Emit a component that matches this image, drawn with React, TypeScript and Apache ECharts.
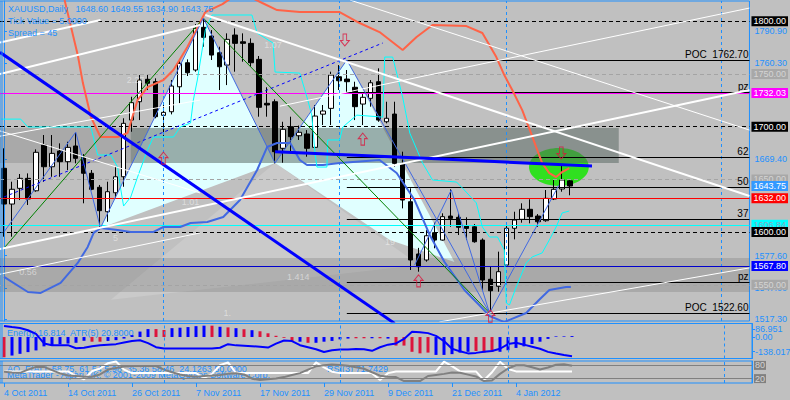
import React, { useEffect, useRef } from "react";
import * as echarts from "echarts";

const FONT = "Liberation Sans";
const TXT = "#1e90ff";

// ---------- price bars ----------
const dates = [
  "4 Oct 2011","5 Oct 2011","6 Oct 2011","7 Oct 2011","10 Oct 2011","11 Oct 2011","12 Oct 2011","13 Oct 2011","14 Oct 2011","17 Oct 2011",
  "18 Oct 2011","19 Oct 2011","20 Oct 2011","21 Oct 2011","24 Oct 2011","25 Oct 2011","26 Oct 2011","27 Oct 2011","28 Oct 2011","31 Oct 2011",
  "1 Nov 2011","2 Nov 2011","3 Nov 2011","4 Nov 2011","7 Nov 2011","8 Nov 2011","9 Nov 2011","10 Nov 2011","11 Nov 2011","14 Nov 2011",
  "15 Nov 2011","16 Nov 2011","17 Nov 2011","18 Nov 2011","21 Nov 2011","22 Nov 2011","23 Nov 2011","24 Nov 2011","25 Nov 2011","28 Nov 2011",
  "29 Nov 2011","30 Nov 2011","1 Dec 2011","2 Dec 2011","5 Dec 2011","6 Dec 2011","7 Dec 2011","8 Dec 2011","9 Dec 2011","12 Dec 2011",
  "13 Dec 2011","14 Dec 2011","15 Dec 2011","16 Dec 2011","19 Dec 2011","20 Dec 2011","21 Dec 2011","22 Dec 2011","23 Dec 2011","27 Dec 2011",
  "28 Dec 2011","29 Dec 2011","30 Dec 2011","3 Jan 2012","4 Jan 2012","5 Jan 2012","6 Jan 2012","9 Jan 2012","10 Jan 2012","11 Jan 2012",
  "12 Jan 2012","13 Jan 2012"
];
const FUTURE_BARS = 22;

const opens = [
  1660.5,1626.6,1641.5,1651.0,1639.2,1682.6,1662.0,1676.9,1666.8,1681.7,
  1670.9,1655.8,1642.5,1619.3,1637.3,1652.5,1706.3,1723.7,1745.0,1742.7,
  1710.8,1714.2,1737.9,1760.7,1753.8,1794.3,1786.0,1770.2,1758.5,1787.0,
  1780.6,1779.1,1763.9,1722.2,1723.7,1679.5,1700.0,1691.4,1693.1,1680.4,
  1711.9,1717.4,1747.4,1745.2,1737.4,1721.5,1726.9,1742.7,1704.7,1712.0,
  1665.2,1628.8,1579.2,1573.5,1599.4,1592.4,1615.2,1614.0,1605.7,1605.0,
  1592.4,1555.2,1548.5,1568.7,1603.6,1612.1,1621.6,1615.2,1610.8,1631.4,
  1640.9,1648.6
];
const highs = [
  1679.5,1647.8,1655.1,1655.7,1678.5,1692.1,1692.1,1684.2,1685.7,1694.3,
  1674.0,1658.9,1644.7,1647.8,1662.0,1708.0,1728.4,1749.0,1750.0,1745.9,
  1722.2,1744.3,1763.3,1763.9,1797.4,1802.8,1791.7,1775.9,1788.6,1793.4,
  1788.6,1783.8,1767.1,1737.4,1726.0,1704.7,1709.5,1701.1,1696.8,1720.6,
  1720.6,1752.2,1758.5,1753.8,1742.7,1731.0,1744.3,1755.4,1723.7,1723.7,
  1676.3,1641.5,1585.0,1601.9,1608.9,1617.8,1640.6,1617.8,1614.0,1607.6,
  1594.0,1567.1,1581.4,1606.7,1619.3,1627.3,1631.1,1617.1,1639.9,1649.4,
  1663.6,1649.55
];
const lows = [
  1595.6,1595.6,1630.4,1625.7,1638.3,1647.8,1652.5,1652.5,1658.9,1665.2,
  1627.3,1639.7,1605.0,1609.8,1632.0,1643.0,1695.2,1706.3,1734.8,1708.0,
  1691.2,1711.7,1722.2,1748.1,1752.2,1775.9,1763.3,1734.8,1739.5,1752.2,
  1761.7,1756.9,1709.5,1709.5,1665.2,1665.8,1676.3,1687.4,1671.5,1679.5,
  1701.6,1701.6,1734.8,1731.7,1706.3,1701.6,1719.0,1704.7,1703.2,1662.0,
  1622.5,1564.0,1562.4,1571.9,1584.6,1591.8,1605.0,1597.2,1592.4,1589.9,
  1545.0,1524.4,1543.4,1567.1,1593.1,1608.9,1608.3,1605.0,1609.8,1630.4,
  1638.3,1634.9
];
const closes = [
  1626.6,1640.6,1651.0,1631.4,1675.7,1662.0,1674.7,1666.8,1680.4,1670.0,
  1655.8,1640.6,1620.3,1638.3,1652.5,1703.2,1722.8,1744.3,1741.2,1709.5,
  1713.6,1738.6,1760.1,1751.2,1793.4,1784.8,1768.0,1756.9,1782.9,1779.1,
  1779.1,1760.7,1718.4,1720.6,1676.3,1697.5,1690.5,1694.7,1679.5,1710.1,
  1714.9,1749.0,1743.6,1742.7,1719.0,1727.9,1741.7,1706.3,1708.0,1665.2,
  1630.4,1573.5,1567.1,1596.5,1592.4,1614.6,1613.0,1604.5,1603.5,1590.8,
  1554.5,1544.3,1562.4,1603.6,1611.4,1621.6,1614.6,1609.8,1632.0,1640.6,
  1649.4,1643.75
];

// ---------- sub-window 1 (Energy / ATR) ----------
const energy = [
  -130,-119,-108,-97,-86,-60,-53,-46,-42,-37,
  -24,-30,-30,-25,-20,-10,12,35,51,51,
  45,57,60,64,70,73,73,66,62,57,
  50,44,37,24,8,-5,-25,-30,-37,-37,
  -30,-25,-15,-10,-8,-8,-8,-8,-10,-55,
  -55,-95,-105,-100,-115,-115,-110,-100,-95,-90,
  -100,-95,-95,-85,-70,-60,-45,-30,-12,4,
  4,6
];
const energyDir = ("r" + "bbbbbbbbbb" + "rr" + "bbbbbb" + "rr" + "bbbbb" + "r" + "b" + "r" + "b" + "r" + "b" +
  "rrrrr" + "b" + "r" + "bbbbb" + "rr" + "b" + "r" + "b" + "rrrrr" + "bbbbb" + "rrr" + "bbbbbbbbbb").split("");
const atrLine = [
  71.5,64.8,58.2,43.7,20.5,-41,-52.3,-52.3,-52.3,-72.1,
  -68.8,-58.9,-52.3,-49,-45.7,-35.7,-25.8,-20.5,-39,-65.5,
  -74.1,-74.1,-74.1,-74.1,-74.1,-74.1,-74.1,-68.8,-45.7,-53.6,
  -55.6,-58.9,-62.9,-67.5,-42.3,-22.5,-25.8,-52.3,-65.5,-78.7,
  -96.6,-85.4,-80.7,-80.7,-77.4,-78.7,-88.7,-65.5,-49,-41,
  -12.6,33.7,30.4,25.1,7.3,-25.8,-75.4,-92,-105.2,-101.9,
  -95.3,-90,-75.4,-45.7,-37.1,-49,-62.2,-75.4,-95.3,-106.5,
  -115.8,-123.1
];
const atrAxisAt = [48.4, -2, -94.3];
const atrAxisText = ["86.951", "0.00", "-138.017"];

// ---------- sub-window 2 (oscillators) ----------
const rsiFast = [
  52.7,52.7,52.7,52.7,52.7,52.7,52.7,52.7,52.7,31.7,
  17,53.7,65.9,90.2,98,61,44.9,44.9,44.9,44.9,
  44.9,44.9,44.9,44.9,44.9,22,41.5,80.5,93.7,44.9,
  44.9,44.9,44.9,44.9,44.9,44.9,44.9,44.9,44.9,93.7,
  70.7,51.2,44.9,44.9,44.9,44.9,44.9,14.1,44.9,52.7,
  52.7,52.7,52.7,52.7,52.7,96.6,76.6,52.7,52.7,52.7,
  12.2,48.8,96.6,64.4,52.7,52.7,52.7,52.7,52.7,52.7,
  52.7,52.7
];
const rsiSlow = [
  51.2,47.3,46.3,61,73.2,73.2,58.5,43.9,34.1,31.7,
  28.3,28.3,39,61,68.3,74.6,77.1,77.1,77.1,77.1,
  61,48.8,39,31.7,28.8,31.7,34,36.6,41.5,43.9,
  39,19.5,13.2,17,20,26.8,36.6,44.9,61,75.6,
  80.5,83.9,82,78.5,71.7,64.9,48.8,33.2,28.3,26.8,
  8.8,8.8,8.8,31.7,36.6,41.5,47.3,46.3,38,29.8,
  8.8,11.2,41.5,65.9,80.5,80.5,71.7,61,70.7,82.9,
  85.4,78
];
const oscLevels = [80, 20];

// ---------- drawn objects (bar index, price) ----------
const redCurve = [[7.6,1820.2],[9.25,1768],[9.9,1741.4],[10.9,1709.2],[12.1,1690.2],[14.25,1690.2],[15.5,1694],[16.75,1725.3],[18,1737.6],[20,1744.3],[21.25,1753.8],[23,1775.6],[24.25,1793.6],[25.25,1808.8],[27.4,1816.4],[29.6,1827.8],[32.4,1817.4],[34.25,1810.7],[37.1,1808.8],[42.1,1808.8],[44.6,1798.4],[47.1,1789.8],[50,1772.8],[51.75,1785.1],[53.75,1796.5],[58,1795.5],[60,1788.9],[61.75,1766.1],[62.75,1749],[63.75,1734.8],[65,1715.7],[66.1,1693.9],[66.75,1680.7],[67.5,1665.5],[68.4,1656],[69.25,1652.2],[70,1657],[70.9,1660.8]];
const lowerBand = [[0,1557.5],[3,1543.1],[4.6,1542.2],[7.1,1551.7],[9.25,1570.7],[10.5,1585.9],[11.25,1599.2],[12.1,1603.9],[14.25,1602],[15.9,1600.1],[18.75,1600.1],[20,1604.8],[22.1,1604.8],[23.4,1608.6],[25.5,1609.5],[27.5,1614.3],[29.6,1630.4],[31.75,1658.9],[33,1680.7],[34.25,1684.5],[35.9,1684.5],[37.1,1668.4],[38,1663.6],[40,1663.6],[42.1,1665.5],[47.1,1668.4],[49.25,1656],[51.5,1630.4],[53.4,1597.2],[55.25,1571.6],[57.75,1545],[59.6,1530.8],[60.9,1520.3],[62.75,1514.6],[65.5,1523.2],[67.1,1535.5],[68.4,1545],[70.5,1547.9],[71.1,1547.9]];
const upperBand = [[-0.4,1707.2],[2.1,1707.2],[3,1699.7],[10.9,1699.7],[11.75,1673.1],[13.4,1673.1],[14.25,1661.7],[14.6,1642.7],[15,1624.7],[15.9,1633.3],[16.75,1652.2],[18,1677.9],[18.75,1690.2],[21.25,1690.2],[22.1,1699.7],[23.4,1703.5],[23.75,1725.3],[24.25,1744.3],[25.25,1791.7],[26.1,1806],[31.1,1806],[31.75,1788.9],[33.75,1779.4],[34,1751.9],[37.1,1750.9],[38,1728.1],[38.6,1711],[39,1675.9],[39.25,1661.7],[40.5,1661.7],[40.6,1687.4],[42.1,1687.4],[42.5,1699.7],[44.25,1711],[47.5,1709.1],[47.75,1766.1],[48.75,1766.1],[50,1728.1],[50.9,1693.9],[52.5,1665.5],[53.75,1649.4],[56.75,1647.5],[57.5,1641.8],[59.25,1627.6],[60,1604.8],[60.9,1595.3],[61.9,1595.3],[62.75,1583],[63,1532.7],[63.4,1530.8],[64.25,1547.9],[65.5,1570.7],[66.25,1576.4],[67.5,1580.2],[68.4,1592.5],[69.25,1604.8],[70,1618.1],[70.9,1620]];
const thickBlueDown = [[-0.5,1770.6],[49,1513.3]];
const thickBlueFlat = [[34,1676.2],[55,1669.3],[73.75,1662.6]];
const dashedBlueUp = [[0,1633.3],[47.5,1779.4]];
const greenUp = [[0,1584.8],[24.6,1799.3]];
const greenDown = [[25,1803.1],[60.9,1523.2]];
const zigzag = [[0,1600.1],[9,1694.9],[12.1,1603.9],[25,1803.1],[34,1665.5],[43,1763.3],[60.9,1523.2],[69.6,1644.6]];
const zigzag2 = [[51.5,1568.7],[56.1,1640],[60.9,1523.2]];
const whiteThick = [
  [[25.25,1806],[93.5,1634.2]],
  [[-0.5,1584],[93.5,1734.8]],
  [[-0.5,1750],[24.6,1796.5]],
  [[-0.5,1780],[12.1,1801.2]]
];
const whiteThin = [
  [[-0.5,1691],[24.6,1725.3]],
  [[-0.5,1696],[24.6,1637.1]],
  [[-0.5,1560],[24.6,1599.2]],
  [[54.6,1514.7],[93.5,1566]],
  [[43.4,1820.2],[93.5,1696.8]],
  [[34.6,1719.5],[93.5,1812.6]]
];
const cyanFills = [
  [[12.1,1603.9],[25,1803.1],[34,1665.5]],
  [[34,1665.5],[43,1763.3],[56.5,1571.6],[48.4,1592.5]]
];
const lightWedge = [[34,1665.5],[13.4,1535.7],[52.1,1568.7]];
// [from bar, to bar, top price, bottom price]
const zoneLight = [[-0.5,77.1,1698.7,1665.5],[-0.5,93.5,1575.4,1543.1]];
const zoneDark = [[15.9,77.1,1698.7,1665.5]];
const greenEllipse = { center: [69.6, 1661.7], halfBars: 3.75, halfPrice: 18 };
const upArrows = [[20,1670.2],[45,1688.2],[52,1553.7],[61,1520.3]];
const downArrows = [[42.75,1782.3],[69.9,1675]];
const annoText = ["2.27","1.01","5","0.56","1.07","1.414","1.","19"];
const annoPos = [[16.5,1744.3],[23.4,1628.5],[14,1594.4],[3,1562.1],[33.75,1777.5],[36.9,1557.4],[28,1523.2],[48.4,1590.6]];

// horizontal levels across the whole window
const levelPrices = [1800, 1750, 1732.03, 1700, 1650, 1643.75, 1632, 1606.84, 1600, 1567.8, 1550];
const levelKinds = ["black","gray","magenta","black","gray","bid","red","cyan","black","blue","gray"];
// level segments starting from a bar
const segStart = 43;
const segPrices = [1762.7, 1732.5, 1671.2, 1642.5, 1612.1, 1552, 1522.6];
const segTexts = ["POC  1762.70","pz","62","50","37","pz","POC  1522.60"];
const separators = [20, 42, 63, 90];
const priceTicks = [1790.9, 1760.3, 1669.4, 1577.6, 1547.0, 1517.3];

const KIND: Record<string, any> = {
  black: { line: "#000000", type: [4, 3], bg: "#000000", fg: "#ffffff" },
  gray: { line: "#a4a4a4", type: [4, 3], bg: "#a8a8a8", fg: "#d4d4d4" },
  magenta: { line: "#ff00ff", type: "solid", bg: "#ff00ff", fg: "#ffffff" },
  bid: { line: "rgba(0,0,0,0)", type: "solid", bg: "#3399ff", fg: "#ffffff" },
  red: { line: "#ff0000", type: "solid", bg: "#ff0000", fg: "#ffffff" },
  cyan: { line: "#00ffff", type: "solid", bg: "#00ffff", fg: "#8aa6c0" },
  blue: { line: "#0000cd", type: "solid", bg: "#0000ff", fg: "#ffffff" }
};

function lineSeries(data: number[][], color: string, width: number, type: any = "solid", z = 5) {
  return {
    type: "line", xAxisIndex: 1, yAxisIndex: 0, data, symbol: "none", silent: true,
    lineStyle: { color, width, type }, z, clip: true
  };
}

function buildOption() {
  const cats = dates.concat(Array.from({ length: FUTURE_BARS }, (_, i) => "+" + (i + 1)));
  const labelEvery = (i: number) => i % 8 === 0 && i < dates.length;
  const sepLines = separators.map((s) => ({
    xAxis: s, lineStyle: { color: "#1e90ff", type: [3, 3], width: 1 }, label: { show: false }
  }));

  const levelMarks: any[] = levelPrices.map((p, i) => {
    const k = KIND[levelKinds[i]];
    return {
      yAxis: p,
      lineStyle: { color: k.line, type: k.type, width: 1 },
      label: {
        show: true, position: "end", distance: 2, formatter: p.toFixed(2),
        color: k.fg, backgroundColor: k.bg, padding: [1, 2, 0, 2], fontSize: 9, fontFamily: FONT
      }
    };
  });
  const segMarks: any[] = segPrices.map((p, i) => [
    {
      coord: [segStart, p],
      lineStyle: { color: "#000000", type: "solid", width: 1 },
      label: { show: true, position: "insideEndTop", distance: 1, formatter: segTexts[i], color: "#000000", fontSize: 10, fontFamily: FONT }
    },
    { coord: [93.5, p] }
  ]);
  const atrLabels: any[] = atrAxisAt.map((v, i) => ({
    yAxis: v, lineStyle: { color: "rgba(0,0,0,0)", width: 1 },
    label: { show: true, position: "end", distance: 3, formatter: atrAxisText[i], color: TXT, fontSize: 9, fontFamily: FONT }
  }));

  const fillShapes = cyanFills.map((pts) => ({ pts, fill: "#e0ffff" }))
    .concat([{ pts: lightWedge, fill: "rgba(255,255,255,0.16)" }]);
  const zoneShapes = zoneLight.map((r) => ({ r, fill: "rgba(100,100,100,0.25)" }))
    .concat(zoneDark.map((r) => ({ r, fill: "rgba(77,100,92,0.35)" })));

  const upPath = "path://M5,0 L10,5 L7,5 L7,11 L3,11 L3,5 L0,5 Z";
  const downPath = "path://M3,0 L7,0 L7,6 L10,6 L5,11 L0,6 L3,6 Z";

  return {
    animation: false,
    backgroundColor: "#c0c0c0",
    textStyle: { fontFamily: FONT },
    grid: [
      { left: -1, top: 1, width: 753, height: 320, show: true, borderColor: "#1e90ff", borderWidth: 1, backgroundColor: "transparent" },
      { left: -1, top: 323.5, width: 753, height: 35, show: true, borderColor: "#1e90ff", borderWidth: 1, backgroundColor: "transparent" },
      { left: -1, top: 361, width: 753, height: 22, show: true, borderColor: "#1e90ff", borderWidth: 1, backgroundColor: "transparent" }
    ],
    xAxis: [
      { type: "category", gridIndex: 0, data: cats, show: false },
      { type: "value", gridIndex: 0, min: -0.5, max: 93.5, show: false },
      { type: "category", gridIndex: 1, data: cats, show: false },
      {
        type: "category", gridIndex: 2, data: cats,
        axisLine: { show: false },
        axisTick: { show: true, alignWithLabel: true, interval: labelEvery, length: 4, lineStyle: { color: TXT } },
        axisLabel: { interval: labelEvery, align: "left", color: TXT, fontSize: 9, fontFamily: FONT, margin: 5 },
        splitLine: { show: false }
      }
    ],
    yAxis: [
      {
        type: "value", gridIndex: 0, position: "right", min: 1515.6, max: 1819.3,
        splitLine: { show: false },
        axisLine: { show: true, lineStyle: { color: "#1e90ff" } },
        axisTick: { show: true, customValues: priceTicks, length: 3, lineStyle: { color: TXT } },
        axisLabel: { customValues: priceTicks, formatter: (v: number) => v.toFixed(2), color: TXT, fontSize: 9, fontFamily: FONT, margin: 5 }
      },
      {
        type: "value", gridIndex: 1, position: "right", min: -138.017, max: 86.951,
        splitLine: { show: false },
        axisLine: { show: true, lineStyle: { color: "#1e90ff" } },
        axisTick: { show: true, customValues: atrAxisAt, length: 3, lineStyle: { color: TXT } },
        axisLabel: { show: false }
      },
      {
        type: "value", gridIndex: 2, position: "right", min: 0, max: 100,
        splitLine: { show: false }, axisLabel: { show: false }, axisTick: { show: false },
        axisLine: { show: true, lineStyle: { color: "#1e90ff" } }
      }
    ],
    graphic: [
      { type: "line", shape: { x1: 2, y1: 1, x2: 2, y2: 321 }, style: { stroke: "#1e90ff", lineWidth: 1 }, z: 50 },
      { type: "line", shape: { x1: 2, y1: 323.5, x2: 2, y2: 358.5 }, style: { stroke: "#1e90ff", lineWidth: 1 }, z: 50 },
      { type: "line", shape: { x1: 2, y1: 361, x2: 2, y2: 383 }, style: { stroke: "#1e90ff", lineWidth: 1 }, z: 50 },
      { type: "text", x: 8, y: 9, z: 100, style: { text: "XAUUSD,Daily   1648.60 1649.55 1634.90 1643.75", fill: TXT, fontSize: 9, fontFamily: FONT, verticalAlign: "middle" } },
      { type: "text", x: 8, y: 21, z: 100, style: { text: "Tick Value = 5.0000", fill: TXT, fontSize: 9, fontFamily: FONT, verticalAlign: "middle" } },
      { type: "text", x: 8, y: 33, z: 100, style: { text: "Spread = 45", fill: TXT, fontSize: 9, fontFamily: FONT, verticalAlign: "middle" } },
      { type: "text", x: 7, y: 333, z: 1, style: { text: "Energy 16.814  ATR(5) 20.8000", fill: TXT, fontSize: 9, fontFamily: FONT, verticalAlign: "middle" } },
      { type: "text", x: 7, y: 368.5, z: 1, style: { text: "AO_F(ALL 58.75, 61.54 5.98  35.36 58.46  24.1263 50.0000", fill: TXT, fontSize: 9, fontFamily: FONT, verticalAlign: "middle" } },
      { type: "text", x: 327, y: 368.5, z: 1, style: { text: "RSI(3) 71.7429", fill: TXT, fontSize: 9, fontFamily: FONT, verticalAlign: "middle" } },
      { type: "text", x: 7, y: 374.5, z: 1, style: { text: "MetaTrader - Alpari UK, \u00a9 2001-2009 MetaQuotes Software Corp.", fill: TXT, fontSize: 9, fontFamily: FONT, verticalAlign: "middle" } }
    ],
    series: [
      {
        type: "custom", name: "fills", xAxisIndex: 1, yAxisIndex: 0, z: 1, silent: true, clip: true,
        data: fillShapes.map((s) => s.pts[0]),
        renderItem: (params: any, api: any) => {
          const s = fillShapes[params.dataIndex];
          return { type: "polygon", shape: { points: s.pts.map((p) => api.coord(p)) }, style: { fill: s.fill } };
        }
      },
      {
        type: "custom", name: "ellipse", xAxisIndex: 1, yAxisIndex: 0, z: 2, silent: true, clip: true,
        data: [greenEllipse.center],
        renderItem: (params: any, api: any) => {
          const c = api.coord(greenEllipse.center);
          const sz = api.size([greenEllipse.halfBars, greenEllipse.halfPrice]);
          return { type: "ellipse", shape: { cx: c[0], cy: c[1], rx: sz[0], ry: sz[1] }, style: { fill: "#30e020" } };
        }
      },
      {
        type: "custom", name: "zones", xAxisIndex: 1, yAxisIndex: 0, z: 3, silent: true, clip: true,
        data: zoneShapes.map((s) => [s.r[0], s.r[2]]),
        renderItem: (params: any, api: any) => {
          const r = zoneShapes[params.dataIndex].r;
          const a = api.coord([r[0], r[2]]);
          const b = api.coord([r[1], r[3]]);
          return { type: "rect", shape: { x: a[0], y: a[1], width: b[0] - a[0], height: b[1] - a[1] }, style: { fill: zoneShapes[params.dataIndex].fill } };
        }
      },
      {
        type: "candlestick", name: "XAUUSD", xAxisIndex: 0, yAxisIndex: 0, z: 4, silent: true, barWidth: 5,
        data: dates.map((_, i) => [opens[i], closes[i], lows[i], highs[i]]),
        itemStyle: { color: "#ffffff", color0: "#000000", borderColor: "#000000", borderColor0: "#000000", borderWidth: 1 }
      },
      lineSeries(lowerBand, "#4169e1", 2),
      lineSeries(upperBand, "#00ffff", 1),
      lineSeries(redCurve, "#ff6347", 2),
      lineSeries(greenUp, "#008000", 1),
      lineSeries(greenDown, "#008000", 1),
      lineSeries(zigzag, "#4169e1", 1),
      lineSeries(zigzag2, "#4169e1", 1),
      lineSeries(dashedBlueUp, "#0000ff", 1, [3, 3]),
      ...whiteThin.map((d) => lineSeries(d, "#ffffff", 1)),
      ...whiteThick.map((d) => lineSeries(d, "#ffffff", 2)),
      lineSeries(thickBlueDown, "#0000ff", 3, "solid", 6),
      lineSeries(thickBlueFlat, "#0000ff", 3, "solid", 6),
      {
        type: "line", name: "levels", xAxisIndex: 1, yAxisIndex: 0, z: 5, silent: true,
        data: [[-0.5, 1700]], symbol: "none", lineStyle: { opacity: 0 },
        markLine: { silent: true, symbol: ["none", "none"], animation: false, data: [...sepLines, ...levelMarks, ...segMarks] }
      },
      {
        type: "scatter", name: "up", xAxisIndex: 1, yAxisIndex: 0, z: 7, silent: true,
        data: upArrows, symbol: upPath, symbolSize: [9, 12],
        itemStyle: { color: "rgba(0,0,0,0)", borderColor: "#dc143c", borderWidth: 1 }
      },
      {
        type: "scatter", name: "down", xAxisIndex: 1, yAxisIndex: 0, z: 7, silent: true,
        data: downArrows, symbol: downPath, symbolSize: [9, 12],
        itemStyle: { color: "rgba(0,0,0,0)", borderColor: "#dc143c", borderWidth: 1 }
      },
      {
        type: "scatter", name: "notes", xAxisIndex: 1, yAxisIndex: 0, z: 7, silent: true,
        data: annoText.map((t, i) => ({ name: t, value: annoPos[i] })),
        symbolSize: 1, itemStyle: { color: "rgba(0,0,0,0)" },
        label: { show: true, position: "inside", formatter: "{b}", color: "rgba(255,255,255,0.6)", fontSize: 9, fontFamily: FONT }
      },
      {
        type: "bar", name: "Energy", xAxisIndex: 2, yAxisIndex: 1, z: 3, silent: true, barWidth: 3,
        data: energy.map((v, i) => ({ value: v, itemStyle: { color: energyDir[i] === "r" ? "#dc143c" : "#0000ff" } })),
        markLine: { silent: true, symbol: ["none", "none"], animation: false, data: sepLines }
      },
      {
        type: "line", name: "ATR", xAxisIndex: 2, yAxisIndex: 1, z: 4, silent: true,
        data: atrLine, symbol: "none", lineStyle: { color: "#0000ff", width: 2 },
        markLine: { silent: true, symbol: ["none", "none"], animation: false, data: atrLabels }
      },
      {
        type: "line", name: "RSI fast", xAxisIndex: 3, yAxisIndex: 2, z: 3, silent: true,
        data: rsiFast, symbol: "none", lineStyle: { color: "#ffffff", width: 2 }
      },
      {
        type: "line", name: "RSI slow", xAxisIndex: 3, yAxisIndex: 2, z: 4, silent: true,
        data: rsiSlow, symbol: "none", lineStyle: { color: "#808080", width: 2 },
        markLine: {
          silent: true, symbol: ["none", "none"], animation: false,
          data: [
            ...sepLines,
            ...oscLevels.map((v) => ({
              yAxis: v, lineStyle: { color: "#808080", type: "solid", width: 1 },
              label: { show: true, position: "end", distance: 2, formatter: String(v), color: "#d4d4d4", backgroundColor: "#808080", padding: [0, 1, 0, 1], fontSize: 9, fontFamily: FONT }
            }))
          ]
        }
      }
    ]
  };
}

export default function App() {
  const ref = useRef<HTMLDivElement>(null);
  useEffect(() => {
    const chart = echarts.init(ref.current as HTMLDivElement, null, { renderer: "svg" });
    chart.setOption(buildOption() as any);
    return () => chart.dispose();
  }, []);
  return <div ref={ref} style={{ position: "fixed", left: 0, top: 0, width: 790, height: 400 }} />;
}
